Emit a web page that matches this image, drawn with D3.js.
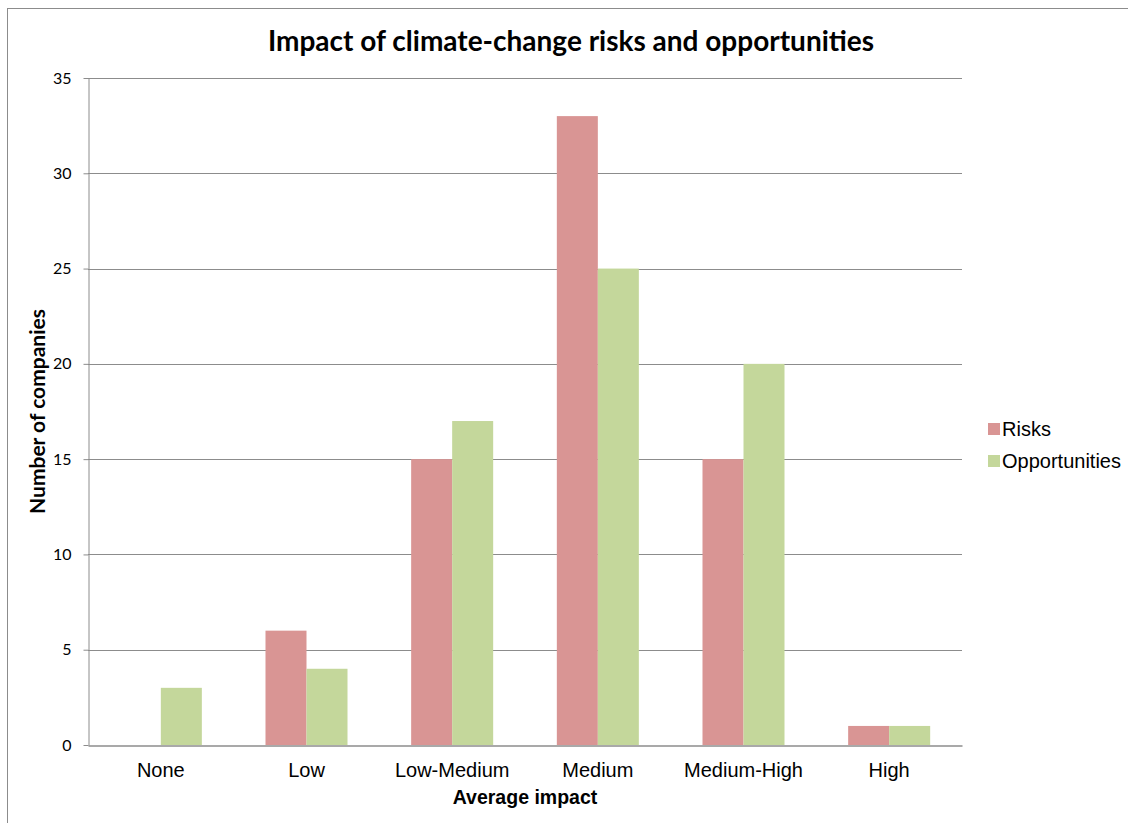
<!DOCTYPE html>
<html>
<head>
<meta charset="utf-8">
<script src="https://cdn.jsdelivr.net/npm/d3@7"></script>
<style>
  body { margin: 0; background: #fff; }
</style>
</head>
<body>
<div id="chart"></div>
<script>
// data
var categories = ["None", "Low", "Low-Medium", "Medium", "Medium-High", "High"];
var seriesNames = ["Risks", "Opportunities"];
var risks = [0, 6, 15, 33, 15, 1];
var opportunities = [3, 4, 17, 25, 20, 1];
var yTicks = [0, 5, 10, 15, 20, 25, 30, 35];

var colors = ["#D99594", "#C4D79B"];

var W = 1128, H = 823;
var plot = {left: 88, right: 962, top: 78, bottom: 745};

var svg = d3.select("#chart").append("svg")
    .attr("width", W)
    .attr("height", H);

// outer chart border
svg.append("rect")
    .attr("x", 7.5).attr("y", 8.5)
    .attr("width", W + 20).attr("height", H + 20)
    .attr("fill", "#fff")
    .attr("stroke", "#8c8c8c")
    .attr("stroke-width", 1);

var x0 = d3.scaleBand()
    .domain(categories)
    .range([plot.left, plot.right])
    .paddingInner(0.437)
    .paddingOuter(0.2185);

var x1 = d3.scaleBand()
    .domain(seriesNames)
    .range([0, x0.bandwidth()]);

var y = d3.scaleLinear()
    .domain([0, 35])
    .range([plot.bottom, plot.top]);

// gridlines
svg.append("g")
  .selectAll("line")
  .data(yTicks.slice(1))
  .enter().append("line")
    .attr("x1", plot.left).attr("x2", plot.right)
    .attr("y1", function(d) { return Math.round(y(d)) + 0.5; })
    .attr("y2", function(d) { return Math.round(y(d)) + 0.5; })
    .attr("stroke", "#8c8c8c");

// bars
var rows = categories.map(function(c, i) {
  return {cat: c, values: [risks[i], opportunities[i]]};
});

var groups = svg.append("g").selectAll("g")
  .data(rows)
  .enter().append("g")
    .attr("transform", function(d) { return "translate(" + x0(d.cat) + ",0)"; });

groups.selectAll("rect")
  .data(function(d) { return d.values.map(function(v, j) { return {s: seriesNames[j], v: v, j: j}; }); })
  .enter().append("rect")
    .attr("x", function(d) { return x1(d.s); })
    .attr("y", function(d) { return y(d.v); })
    .attr("width", x1.bandwidth())
    .attr("height", function(d) { return y(0) - y(d.v); })
    .attr("fill", function(d) { return colors[d.j]; });

// y axis
var yAxis = svg.append("g")
    .attr("transform", "translate(" + (plot.left + 0.5) + ",0)")
    .call(d3.axisLeft(y).tickValues(yTicks).tickSize(5).tickPadding(12).tickSizeOuter(0));
yAxis.select(".domain").attr("stroke", "#8c8c8c");
yAxis.selectAll(".tick line").attr("stroke", "#8c8c8c");
yAxis.selectAll(".tick text")
    .attr("font-family", "Lato, 'Open Sans', sans-serif")
    .attr("font-size", "16px")
    .attr("fill", "#000");

// x axis
var xAxis = svg.append("g")
    .attr("transform", "translate(0," + (plot.bottom + 0.5) + ")")
    .call(d3.axisBottom(x0).tickSize(0).tickPadding(17).tickSizeOuter(0));
xAxis.select(".domain").attr("stroke", "#8c8c8c").attr("stroke-width", 1.5);
xAxis.selectAll(".tick text")
    .attr("font-family", "'Liberation Sans', Arial, sans-serif")
    .attr("font-size", "20px")
    .attr("fill", "#000");

// title
svg.append("text")
    .attr("x", 571).attr("y", 51)
    .attr("text-anchor", "middle")
    .attr("font-family", "Lato, 'Open Sans', sans-serif")
    .attr("font-weight", "bold")
    .attr("font-size", "28px")
    .text("Impact of climate-change risks and opportunities");

// axis titles
svg.append("text")
    .attr("x", (plot.left + plot.right) / 2).attr("y", 804)
    .attr("text-anchor", "middle")
    .attr("font-family", "'Liberation Sans', Arial, sans-serif")
    .attr("font-weight", "bold")
    .attr("font-size", "19.5px")
    .text("Average impact");

svg.append("text")
    .attr("transform", "translate(45," + ((plot.top + plot.bottom) / 2) + ") rotate(-90)")
    .attr("text-anchor", "middle")
    .attr("font-family", "Lato, 'Open Sans', sans-serif")
    .attr("font-weight", "bold")
    .attr("font-size", "21px")
    .text("Number of companies");

// legend
var legend = svg.append("g").selectAll("g")
  .data(seriesNames)
  .enter().append("g")
    .attr("transform", function(d, i) { return "translate(988," + (423 + i * 32) + ")"; });

legend.append("rect")
    .attr("width", 12).attr("height", 12)
    .attr("fill", function(d, i) { return colors[i]; });

legend.append("text")
    .attr("x", 14).attr("y", 12.5)
    .attr("font-family", "'Liberation Sans', Arial, sans-serif")
    .attr("font-size", "20px")
    .text(function(d) { return d; });
</script>
</body>
</html>
